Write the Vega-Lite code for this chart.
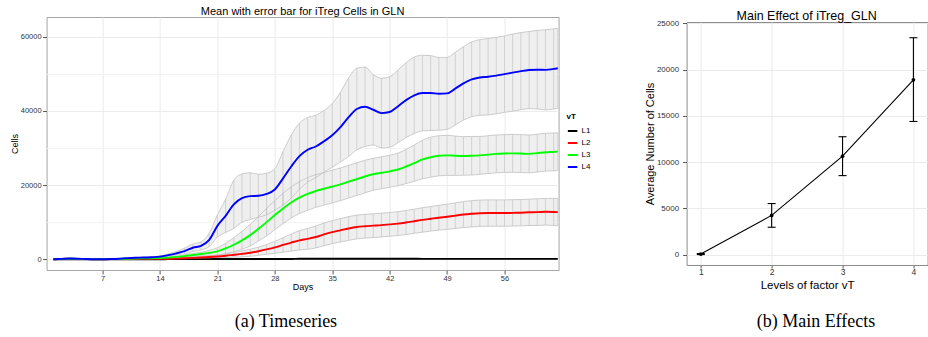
{
  "$schema": "https://vega.github.io/schema/vega-lite/v6.json",
  "padding": {"left": 9.6, "top": 5, "right": 0, "bottom": 0},
  "config": {
    "font": "Liberation Sans",
    "view": {"stroke": "#a6a6a6"},
    "concat": {"spacing": 81}
  },
  "datasets": {
    "ts": [
      {"day":1,"vT":"L1","m":0,"lo":-10,"hi":10},{"day":2,"vT":"L1","m":0,"lo":-10,"hi":10},{"day":3,"vT":"L1","m":0,"lo":-10,"hi":10},{"day":4,"vT":"L1","m":0,"lo":-10,"hi":10},{"day":5,"vT":"L1","m":0,"lo":-10,"hi":10},{"day":6,"vT":"L1","m":0,"lo":-10,"hi":10},{"day":7,"vT":"L1","m":0,"lo":-10,"hi":10},{"day":8,"vT":"L1","m":0,"lo":-10,"hi":10},{"day":9,"vT":"L1","m":0,"lo":-10,"hi":10},{"day":10,"vT":"L1","m":0,"lo":-10,"hi":10},{"day":11,"vT":"L1","m":0,"lo":-10,"hi":10},{"day":12,"vT":"L1","m":0,"lo":-10,"hi":10},{"day":13,"vT":"L1","m":0,"lo":-10,"hi":10},{"day":14,"vT":"L1","m":0,"lo":-10,"hi":10},
      {"day":15,"vT":"L1","m":30,"lo":0,"hi":60},{"day":16,"vT":"L1","m":30,"lo":0,"hi":60},{"day":17,"vT":"L1","m":30,"lo":0,"hi":60},{"day":18,"vT":"L1","m":30,"lo":0,"hi":60},{"day":19,"vT":"L1","m":30,"lo":0,"hi":60},{"day":20,"vT":"L1","m":30,"lo":0,"hi":60},
      {"day":21,"vT":"L1","m":80,"lo":40,"hi":120},{"day":22,"vT":"L1","m":80,"lo":40,"hi":120},{"day":23,"vT":"L1","m":80,"lo":40,"hi":120},{"day":24,"vT":"L1","m":80,"lo":40,"hi":120},{"day":25,"vT":"L1","m":80,"lo":40,"hi":120},{"day":26,"vT":"L1","m":80,"lo":40,"hi":120},{"day":27,"vT":"L1","m":80,"lo":40,"hi":120},{"day":28,"vT":"L1","m":80,"lo":40,"hi":120},{"day":29,"vT":"L1","m":80,"lo":40,"hi":120},{"day":30,"vT":"L1","m":80,"lo":40,"hi":120},
      {"day":31,"vT":"L1","m":120,"lo":70,"hi":170},{"day":32,"vT":"L1","m":120,"lo":70,"hi":170},{"day":33,"vT":"L1","m":120,"lo":70,"hi":170},{"day":34,"vT":"L1","m":120,"lo":70,"hi":170},{"day":35,"vT":"L1","m":120,"lo":70,"hi":170},{"day":36,"vT":"L1","m":120,"lo":70,"hi":170},{"day":37,"vT":"L1","m":120,"lo":70,"hi":170},{"day":38,"vT":"L1","m":120,"lo":70,"hi":170},{"day":39,"vT":"L1","m":120,"lo":70,"hi":170},{"day":40,"vT":"L1","m":120,"lo":70,"hi":170},{"day":41,"vT":"L1","m":120,"lo":70,"hi":170},{"day":42,"vT":"L1","m":120,"lo":70,"hi":170},{"day":43,"vT":"L1","m":120,"lo":70,"hi":170},{"day":44,"vT":"L1","m":120,"lo":70,"hi":170},{"day":45,"vT":"L1","m":120,"lo":70,"hi":170},
      {"day":46,"vT":"L1","m":100,"lo":60,"hi":140},{"day":47,"vT":"L1","m":100,"lo":60,"hi":140},{"day":48,"vT":"L1","m":100,"lo":60,"hi":140},{"day":49,"vT":"L1","m":100,"lo":60,"hi":140},{"day":50,"vT":"L1","m":100,"lo":60,"hi":140},{"day":51,"vT":"L1","m":100,"lo":60,"hi":140},{"day":52,"vT":"L1","m":100,"lo":60,"hi":140},{"day":53,"vT":"L1","m":100,"lo":60,"hi":140},{"day":54,"vT":"L1","m":100,"lo":60,"hi":140},{"day":55,"vT":"L1","m":100,"lo":60,"hi":140},{"day":56,"vT":"L1","m":100,"lo":60,"hi":140},{"day":57,"vT":"L1","m":100,"lo":60,"hi":140},{"day":58,"vT":"L1","m":100,"lo":60,"hi":140},{"day":59,"vT":"L1","m":100,"lo":60,"hi":140},{"day":60,"vT":"L1","m":100,"lo":60,"hi":140},{"day":61,"vT":"L1","m":100,"lo":60,"hi":140},{"day":62,"vT":"L1","m":100,"lo":60,"hi":140},{"day":62.5,"vT":"L1","m":100,"lo":60,"hi":140},

      {"day":1,"vT":"L2","m":0,"lo":-10,"hi":10},{"day":2,"vT":"L2","m":80,"lo":65,"hi":95},{"day":3,"vT":"L2","m":120,"lo":100,"hi":140},{"day":4,"vT":"L2","m":80,"lo":60,"hi":100},{"day":5,"vT":"L2","m":30,"lo":15,"hi":45},{"day":6,"vT":"L2","m":0,"lo":-10,"hi":10},{"day":7,"vT":"L2","m":0,"lo":-10,"hi":10},{"day":8,"vT":"L2","m":20,"lo":10,"hi":30},{"day":9,"vT":"L2","m":40,"lo":25,"hi":55},{"day":10,"vT":"L2","m":60,"lo":40,"hi":80},{"day":11,"vT":"L2","m":80,"lo":55,"hi":105},{"day":12,"vT":"L2","m":90,"lo":60,"hi":120},{"day":13,"vT":"L2","m":100,"lo":65,"hi":135},{"day":14,"vT":"L2","m":110,"lo":70,"hi":150},
      {"day":15,"vT":"L2","m":150,"lo":90,"hi":210},{"day":16,"vT":"L2","m":200,"lo":120,"hi":280},{"day":17,"vT":"L2","m":280,"lo":170,"hi":390},{"day":18,"vT":"L2","m":380,"lo":230,"hi":530},{"day":19,"vT":"L2","m":480,"lo":280,"hi":680},{"day":20,"vT":"L2","m":600,"lo":320,"hi":880},{"day":21,"vT":"L2","m":750,"lo":370,"hi":1130},{"day":22,"vT":"L2","m":950,"lo":450,"hi":1450},{"day":23,"vT":"L2","m":1200,"lo":550,"hi":1850},{"day":24,"vT":"L2","m":1450,"lo":650,"hi":2250},{"day":25,"vT":"L2","m":1750,"lo":800,"hi":2700},{"day":26,"vT":"L2","m":2150,"lo":1050,"hi":3250},{"day":27,"vT":"L2","m":2650,"lo":1350,"hi":3950},{"day":28,"vT":"L2","m":3200,"lo":1600,"hi":4800},{"day":29,"vT":"L2","m":3850,"lo":1900,"hi":5800},{"day":30,"vT":"L2","m":4500,"lo":2200,"hi":6800},
      {"day":31,"vT":"L2","m":5100,"lo":2500,"hi":7700},{"day":32,"vT":"L2","m":5500,"lo":2700,"hi":8300},{"day":33,"vT":"L2","m":6000,"lo":3050,"hi":8950},{"day":34,"vT":"L2","m":6700,"lo":3650,"hi":9750},{"day":35,"vT":"L2","m":7300,"lo":4200,"hi":10400},{"day":36,"vT":"L2","m":7800,"lo":4650,"hi":10950},{"day":37,"vT":"L2","m":8300,"lo":5100,"hi":11500},{"day":38,"vT":"L2","m":8700,"lo":5500,"hi":11900},{"day":39,"vT":"L2","m":8900,"lo":5700,"hi":12100},{"day":40,"vT":"L2","m":9050,"lo":5850,"hi":12250},{"day":41,"vT":"L2","m":9200,"lo":6000,"hi":12400},{"day":42,"vT":"L2","m":9400,"lo":6200,"hi":12600},{"day":43,"vT":"L2","m":9600,"lo":6400,"hi":12800},{"day":44,"vT":"L2","m":9900,"lo":6650,"hi":13150},{"day":45,"vT":"L2","m":10250,"lo":7000,"hi":13500},{"day":46,"vT":"L2","m":10600,"lo":7300,"hi":13900},
      {"day":47,"vT":"L2","m":10900,"lo":7600,"hi":14200},{"day":48,"vT":"L2","m":11200,"lo":7850,"hi":14550},{"day":49,"vT":"L2","m":11450,"lo":8050,"hi":14850},{"day":50,"vT":"L2","m":11750,"lo":8300,"hi":15200},{"day":51,"vT":"L2","m":12050,"lo":8550,"hi":15550},{"day":52,"vT":"L2","m":12250,"lo":8700,"hi":15800},{"day":53,"vT":"L2","m":12400,"lo":8850,"hi":15950},{"day":54,"vT":"L2","m":12450,"lo":8900,"hi":16000},{"day":55,"vT":"L2","m":12450,"lo":8900,"hi":16000},{"day":56,"vT":"L2","m":12450,"lo":8900,"hi":16000},{"day":57,"vT":"L2","m":12500,"lo":8950,"hi":16050},{"day":58,"vT":"L2","m":12550,"lo":9000,"hi":16100},{"day":59,"vT":"L2","m":12650,"lo":9100,"hi":16200},{"day":60,"vT":"L2","m":12700,"lo":9100,"hi":16300},{"day":61,"vT":"L2","m":12800,"lo":9200,"hi":16400},{"day":62,"vT":"L2","m":12750,"lo":9100,"hi":16400},{"day":62.5,"vT":"L2","m":12700,"lo":9050,"hi":16350},

      {"day":1,"vT":"L3","m":0,"lo":-10,"hi":10},{"day":2,"vT":"L3","m":100,"lo":80,"hi":120},{"day":3,"vT":"L3","m":150,"lo":120,"hi":180},{"day":4,"vT":"L3","m":100,"lo":70,"hi":130},{"day":5,"vT":"L3","m":50,"lo":30,"hi":70},{"day":6,"vT":"L3","m":0,"lo":-20,"hi":20},{"day":7,"vT":"L3","m":0,"lo":-20,"hi":20},{"day":8,"vT":"L3","m":30,"lo":10,"hi":50},{"day":9,"vT":"L3","m":80,"lo":50,"hi":110},{"day":10,"vT":"L3","m":150,"lo":110,"hi":190},{"day":11,"vT":"L3","m":200,"lo":150,"hi":250},{"day":12,"vT":"L3","m":250,"lo":190,"hi":310},{"day":13,"vT":"L3","m":280,"lo":210,"hi":350},{"day":14,"vT":"L3","m":320,"lo":240,"hi":400},
      {"day":15,"vT":"L3","m":450,"lo":300,"hi":600},{"day":16,"vT":"L3","m":650,"lo":450,"hi":850},{"day":17,"vT":"L3","m":850,"lo":550,"hi":1150},{"day":18,"vT":"L3","m":1150,"lo":750,"hi":1550},{"day":19,"vT":"L3","m":1400,"lo":900,"hi":1900},{"day":20,"vT":"L3","m":1700,"lo":1000,"hi":2400},{"day":21,"vT":"L3","m":2100,"lo":1100,"hi":3100},{"day":22,"vT":"L3","m":2900,"lo":1500,"hi":4300},{"day":23,"vT":"L3","m":3900,"lo":2000,"hi":5800},{"day":24,"vT":"L3","m":5100,"lo":2700,"hi":7500},{"day":25,"vT":"L3","m":6500,"lo":3600,"hi":9400},{"day":26,"vT":"L3","m":8200,"lo":4900,"hi":11500},{"day":27,"vT":"L3","m":10000,"lo":6300,"hi":13700},{"day":28,"vT":"L3","m":11900,"lo":8000,"hi":15800},{"day":29,"vT":"L3","m":13700,"lo":9600,"hi":17800},{"day":30,"vT":"L3","m":15300,"lo":11100,"hi":19500},
      {"day":31,"vT":"L3","m":16600,"lo":12300,"hi":20900},{"day":32,"vT":"L3","m":17600,"lo":13200,"hi":22000},{"day":33,"vT":"L3","m":18400,"lo":14000,"hi":22800},{"day":34,"vT":"L3","m":19000,"lo":14600,"hi":23400},{"day":35,"vT":"L3","m":19600,"lo":15200,"hi":24000},{"day":36,"vT":"L3","m":20200,"lo":15800,"hi":24600},{"day":37,"vT":"L3","m":20900,"lo":16500,"hi":25300},{"day":38,"vT":"L3","m":21600,"lo":17200,"hi":26000},{"day":39,"vT":"L3","m":22300,"lo":17900,"hi":26700},{"day":40,"vT":"L3","m":22900,"lo":18600,"hi":27200},{"day":41,"vT":"L3","m":23300,"lo":19000,"hi":27600},{"day":42,"vT":"L3","m":23700,"lo":19400,"hi":28000},{"day":43,"vT":"L3","m":24200,"lo":19800,"hi":28600},{"day":44,"vT":"L3","m":25000,"lo":20400,"hi":29600},{"day":45,"vT":"L3","m":25900,"lo":21000,"hi":30800},{"day":46,"vT":"L3","m":26900,"lo":21700,"hi":32100},
      {"day":47,"vT":"L3","m":27500,"lo":22100,"hi":32900},{"day":48,"vT":"L3","m":27900,"lo":22500,"hi":33300},{"day":49,"vT":"L3","m":28000,"lo":22600,"hi":33400},{"day":50,"vT":"L3","m":27900,"lo":22600,"hi":33200},{"day":51,"vT":"L3","m":27850,"lo":22650,"hi":33050},{"day":52,"vT":"L3","m":27900,"lo":22700,"hi":33100},{"day":53,"vT":"L3","m":28000,"lo":22900,"hi":33100},{"day":54,"vT":"L3","m":28200,"lo":23100,"hi":33300},{"day":55,"vT":"L3","m":28400,"lo":23300,"hi":33500},{"day":56,"vT":"L3","m":28500,"lo":23400,"hi":33600},{"day":57,"vT":"L3","m":28550,"lo":23450,"hi":33650},{"day":58,"vT":"L3","m":28500,"lo":23400,"hi":33600},{"day":59,"vT":"L3","m":28400,"lo":23300,"hi":33500},{"day":60,"vT":"L3","m":28600,"lo":23500,"hi":33700},{"day":61,"vT":"L3","m":28850,"lo":23750,"hi":33950},{"day":62,"vT":"L3","m":28950,"lo":23850,"hi":34050},{"day":62.5,"vT":"L3","m":29000,"lo":23900,"hi":34100},

      {"day":1,"vT":"L4","m":0,"lo":-20,"hi":20},{"day":2,"vT":"L4","m":100,"lo":60,"hi":140},{"day":3,"vT":"L4","m":200,"lo":150,"hi":250},{"day":4,"vT":"L4","m":150,"lo":100,"hi":200},{"day":5,"vT":"L4","m":50,"lo":10,"hi":90},{"day":6,"vT":"L4","m":0,"lo":-30,"hi":30},{"day":7,"vT":"L4","m":0,"lo":-30,"hi":30},{"day":8,"vT":"L4","m":50,"lo":10,"hi":90},{"day":9,"vT":"L4","m":150,"lo":90,"hi":210},{"day":10,"vT":"L4","m":300,"lo":220,"hi":380},{"day":11,"vT":"L4","m":400,"lo":300,"hi":500},{"day":12,"vT":"L4","m":450,"lo":330,"hi":570},{"day":13,"vT":"L4","m":550,"lo":400,"hi":700},{"day":14,"vT":"L4","m":700,"lo":500,"hi":900},
      {"day":15,"vT":"L4","m":1100,"lo":800,"hi":1400},{"day":16,"vT":"L4","m":1600,"lo":1100,"hi":2100},{"day":17,"vT":"L4","m":2200,"lo":1400,"hi":3000},{"day":18,"vT":"L4","m":3100,"lo":2100,"hi":4100},{"day":19,"vT":"L4","m":3600,"lo":2500,"hi":4700},{"day":20,"vT":"L4","m":5200,"lo":3400,"hi":7000},{"day":21,"vT":"L4","m":9000,"lo":6000,"hi":12000},{"day":22,"vT":"L4","m":11700,"lo":7200,"hi":16200},{"day":23,"vT":"L4","m":14800,"lo":8300,"hi":21300},{"day":24,"vT":"L4","m":16500,"lo":10000,"hi":23000},{"day":25,"vT":"L4","m":17000,"lo":10700,"hi":23300},{"day":26,"vT":"L4","m":17100,"lo":11300,"hi":22900},{"day":27,"vT":"L4","m":17600,"lo":12000,"hi":23200},{"day":28,"vT":"L4","m":18800,"lo":13200,"hi":24400},{"day":29,"vT":"L4","m":21800,"lo":14600,"hi":29000},{"day":30,"vT":"L4","m":25000,"lo":16500,"hi":33500},
      {"day":31,"vT":"L4","m":27800,"lo":18900,"hi":36700},{"day":32,"vT":"L4","m":29500,"lo":20800,"hi":38200},{"day":33,"vT":"L4","m":30400,"lo":22000,"hi":38800},{"day":34,"vT":"L4","m":31800,"lo":23500,"hi":40100},{"day":35,"vT":"L4","m":33400,"lo":24800,"hi":42000},{"day":36,"vT":"L4","m":35600,"lo":26200,"hi":45000},{"day":37,"vT":"L4","m":38300,"lo":27700,"hi":48900},{"day":38,"vT":"L4","m":40500,"lo":29500,"hi":51500},{"day":39,"vT":"L4","m":41100,"lo":30400,"hi":51800},{"day":40,"vT":"L4","m":40300,"lo":30800,"hi":49800},{"day":41,"vT":"L4","m":39400,"lo":30000,"hi":48800},{"day":42,"vT":"L4","m":39700,"lo":30200,"hi":49200},{"day":43,"vT":"L4","m":41200,"lo":31400,"hi":51000},{"day":44,"vT":"L4","m":42900,"lo":32800,"hi":53000},{"day":45,"vT":"L4","m":44200,"lo":33900,"hi":54500},{"day":46,"vT":"L4","m":44800,"lo":34600,"hi":55000},
      {"day":47,"vT":"L4","m":44800,"lo":34700,"hi":54900},{"day":48,"vT":"L4","m":44600,"lo":34800,"hi":54400},{"day":49,"vT":"L4","m":44700,"lo":35000,"hi":54400},{"day":50,"vT":"L4","m":46000,"lo":36200,"hi":55800},{"day":51,"vT":"L4","m":47400,"lo":37500,"hi":57300},{"day":52,"vT":"L4","m":48500,"lo":38400,"hi":58600},{"day":53,"vT":"L4","m":49000,"lo":38800,"hi":59200},{"day":54,"vT":"L4","m":49200,"lo":38900,"hi":59500},{"day":55,"vT":"L4","m":49500,"lo":39200,"hi":59800},{"day":56,"vT":"L4","m":49900,"lo":39600,"hi":60200},{"day":57,"vT":"L4","m":50300,"lo":39900,"hi":60700},{"day":58,"vT":"L4","m":50700,"lo":40300,"hi":61100},{"day":59,"vT":"L4","m":51000,"lo":40600,"hi":61400},{"day":60,"vT":"L4","m":51100,"lo":40500,"hi":61700},{"day":61,"vT":"L4","m":51050,"lo":40250,"hi":61850},{"day":62,"vT":"L4","m":51300,"lo":40500,"hi":62100},{"day":62.5,"vT":"L4","m":51500,"lo":40700,"hi":62300}
    ],
    "me": [
      {"level":1,"m":75,"lo":20,"hi":130},
      {"level":2,"m":4250,"lo":2970,"hi":5530},
      {"level":3,"m":10650,"lo":8550,"hi":12750},
      {"level":4,"m":18900,"lo":14400,"hi":23450}
    ]
  },
  "hconcat": [
    {
      "title": {"text": "(a) Timeseries", "orient": "bottom", "font": "Liberation Serif", "fontSize": 18, "fontWeight": "normal", "color": "#000", "offset": 21, "anchor": "middle"},
      "vconcat": [
        {
          "width": 512,
          "height": 253,
          "view": {"stroke": "#a6a6a6"},
          "title": {"text": "Mean with error bar for iTreg Cells in GLN", "fontSize": 11, "fontWeight": "normal", "color": "#000", "offset": 0, "anchor": "middle"},
          "data": {"name": "ts"},
          "encoding": {
            "x": {"field": "day", "type": "quantitative", "scale": {"domain": [0.17, 62.6], "nice": false, "zero": false},
              "axis": {"values": [7,14,21,28,35,42,49,56], "title": "Days", "titleFontSize": 9, "titleFontWeight": "normal", "titleColor": "#000", "titlePadding": 1, "labelFontSize": 7.5, "labelColor": "#333", "labelPadding": 0.5, "tickColor": "#555", "tickSize": 4, "domain": false, "gridColor": "#ebebeb", "gridWidth": 1}}
          },
          "layer": [
            {"mark": {"type": "area", "color": "#efefef", "interpolate": "monotone"},
             "encoding": {
               "y": {"field": "lo", "type": "quantitative", "title": "Cells", "scale": {"domain": [-2900, 65300], "nice": false, "zero": false},
                 "axis": {"values": [0,10000,20000,30000,40000,50000,60000], "format": "d", "labelExpr": "datum.value % 20000 === 0 ? datum.label : ''", "title": "Cells", "titleFontSize": 9, "titleFontWeight": "normal", "titleColor": "#000", "titlePadding": 1, "labelFontSize": 7.5, "labelColor": "#333", "labelPadding": 1.5, "tickColor": "#555", "tickSize": 4, "tickOpacity": {"condition": {"test": "datum.value % 20000 === 0", "value": 1}, "value": 0}, "domain": false, "gridColor": {"condition": {"test": "datum.value % 20000 === 0", "value": "#ebebeb"}, "value": "#f3f3f3"}}},
               "y2": {"field": "hi"},
               "detail": {"field": "vT"}
             }},
            {"mark": {"type": "rule", "color": "#bdbdbd", "strokeWidth": 0.6},
             "encoding": {"y": {"field": "lo", "type": "quantitative", "title": "Cells"}, "y2": {"field": "hi"}}},
            {"mark": {"type": "line", "color": "#c2c2c2", "strokeWidth": 0.8, "interpolate": "monotone"},
             "encoding": {"y": {"field": "hi", "type": "quantitative", "title": "Cells"}, "detail": {"field": "vT"}}},
            {"mark": {"type": "line", "color": "#c2c2c2", "strokeWidth": 0.8, "interpolate": "monotone"},
             "encoding": {"y": {"field": "lo", "type": "quantitative", "title": "Cells"}, "detail": {"field": "vT"}}},
            {"mark": {"type": "line", "strokeWidth": 1.9, "interpolate": "monotone"},
             "encoding": {
               "y": {"field": "m", "type": "quantitative", "title": "Cells"},
               "color": {"field": "vT", "type": "nominal", "scale": {"domain": ["L1","L2","L3","L4"], "range": ["#000000","#ff0000","#00ff00","#0000ff"]},
                 "legend": {"orient": "none", "legendX": 520, "legendY": 96, "title": "vT", "titleFontSize": 8, "titleFontWeight": "bold", "titleColor": "#000", "titlePadding": 4, "labelFontSize": 8, "labelColor": "#000", "labelOffset": 3, "symbolType": "stroke", "symbolStrokeWidth": 2, "symbolSize": 90, "rowPadding": 2}}
             }}
          ]
        }
      ]
    },
    {
      "title": {"text": "(b) Main Effects", "orient": "bottom", "font": "Liberation Serif", "fontSize": 18, "fontWeight": "normal", "color": "#000", "offset": 22, "anchor": "middle", "dx": 30},
      "vconcat": [
        {
          "title": {"text": "Main Effect of iTreg_GLN", "fontSize": 12.5, "fontWeight": "normal", "color": "#000", "offset": -5, "anchor": "start", "frame": "group", "dx": 50},
          "spacing": 0,
          "vconcat": [
            {
              "width": 241,
              "height": 1,
              "view": {"stroke": null},
              "data": {"values": []},
              "mark": {"type": "point", "opacity": 0},
              "encoding": {}
            },
            {
              "width": 241,
              "height": 243,
              "view": {"stroke": "#8c8c8c"},
              "data": {"name": "me"},
              "encoding": {
                "x": {"field": "level", "type": "quantitative", "scale": {"domain": [0.8, 4.2], "nice": false, "zero": false},
                  "axis": {"values": [1,1.5,2,2.5,3,3.5,4], "format": "d", "labelExpr": "datum.value % 1 === 0 ? datum.label : ''", "title": "Levels of factor vT", "titleFontSize": 11.5, "titleFontWeight": "normal", "titleColor": "#000", "titlePadding": 3, "labelFontSize": 8.5, "labelColor": "#333", "labelPadding": 0, "tickColor": "#555", "tickSize": 3, "tickOpacity": {"condition": {"test": "datum.value % 1 === 0", "value": 1}, "value": 0}, "domain": false, "gridColor": {"condition": {"test": "datum.value % 1 === 0", "value": "#ebebeb"}, "value": "#f3f3f3"}}}
              },
              "layer": [
                {"mark": {"type": "line", "color": "#000", "strokeWidth": 1.1},
                 "encoding": {"y": {"field": "m", "type": "quantitative", "title": "Average Number of Cells", "scale": {"domain": [-1110, 25150], "nice": false, "zero": false},
                   "axis": {"values": [0,2500,5000,7500,10000,12500,15000,17500,20000,22500,25000], "format": "d", "labelExpr": "datum.value % 5000 === 0 ? datum.label : ''", "title": "Average Number of Cells", "titleFontSize": 11, "titleFontWeight": "normal", "titleColor": "#000", "titlePadding": 1, "labelFontSize": 8, "labelColor": "#333", "labelPadding": 4, "tickColor": "#555", "tickSize": 4, "tickOpacity": {"condition": {"test": "datum.value % 5000 === 0", "value": 1}, "value": 0}, "domain": false, "gridColor": {"condition": {"test": "datum.value % 5000 === 0", "value": "#ebebeb"}, "value": "#f3f3f3"}}}}},
                {"mark": {"type": "rule", "color": "#000", "strokeWidth": 1.1},
                 "encoding": {"y": {"field": "lo", "type": "quantitative", "title": "Average Number of Cells"}, "y2": {"field": "hi"}}},
                {"mark": {"type": "tick", "orient": "horizontal", "color": "#000", "size": 8, "thickness": 1.1, "opacity": 1},
                 "encoding": {"y": {"field": "lo", "type": "quantitative", "title": "Average Number of Cells"}}},
                {"mark": {"type": "tick", "orient": "horizontal", "color": "#000", "size": 8, "thickness": 1.1, "opacity": 1},
                 "encoding": {"y": {"field": "hi", "type": "quantitative", "title": "Average Number of Cells"}}},
                {"mark": {"type": "point", "filled": true, "color": "#000", "size": 14, "opacity": 1},
                 "encoding": {"y": {"field": "m", "type": "quantitative", "title": "Average Number of Cells"}}}
              ]
            }
          ]
        }
      ]
    }
  ]
}
